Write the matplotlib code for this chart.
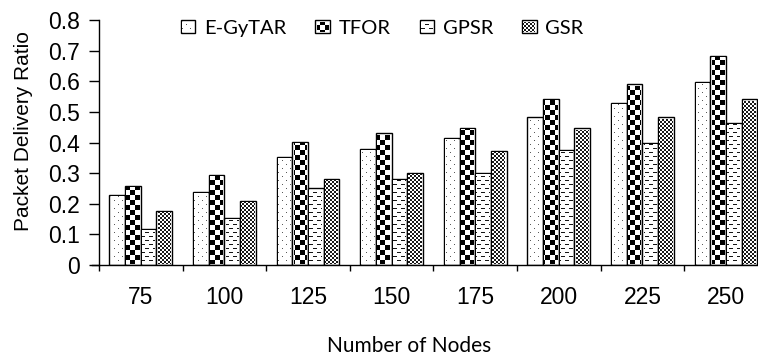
import matplotlib.pyplot as plt
import numpy as np
from matplotlib.patches import Rectangle

# data
nodes = ['75', '100', '125', '150', '175', '200', '225', '250']
e_gytar = [0.23, 0.238, 0.352, 0.378, 0.415, 0.482, 0.528, 0.598]
tfor = [0.257, 0.293, 0.402, 0.43, 0.447, 0.542, 0.59, 0.683]
gpsr = [0.118, 0.154, 0.25, 0.282, 0.30, 0.376, 0.40, 0.463]
gsr = [0.177, 0.21, 0.282, 0.30, 0.373, 0.446, 0.482, 0.541]

labels = ['E-GyTAR', 'TFOR', 'GPSR', 'GSR']
values = [e_gytar, tfor, gpsr, gsr]
fills = ['dots', 'checker', 'dash', 'fine']


def texture(kind, xx, yy):
    # pixel fill patterns, on global pixel coords so they line up
    if kind == 'dots':
        ink = ((xx % 8 == 2) & (yy % 8 == 2)) | ((xx % 8 == 6) & (yy % 8 == 6))
        val = 90
    elif kind == 'checker':
        ink = ((xx // 5 + yy // 5) % 2) == 0
        val = 0
    elif kind == 'dash':
        ink = ((yy % 8 == 2) & (xx % 8 >= 1) & (xx % 8 <= 4)) | \
              ((yy % 8 == 6) & ((xx % 8 >= 5) | (xx % 8 == 0)))
        val = 20
    else:
        ink = ((xx // 2 + yy // 2) % 2) == 0
        val = 25
    img = np.full(xx.shape + (4,), 255, dtype=np.uint8)
    img[ink, 0:3] = val
    return img


def paint(fig, patch, kind):
    bb = patch.get_window_extent()
    x0 = int(np.ceil(bb.x0 + 0.7))
    x1 = int(np.floor(bb.x1 - 0.7))
    y0 = int(np.ceil(bb.y0 + 0.7))
    y1 = int(np.floor(bb.y1 - 0.7))
    if x1 <= x0 or y1 <= y0:
        return
    xs = np.arange(x0, x1)
    ys = np.arange(y1 - 1, y0 - 1, -1)
    xx, yy = np.meshgrid(xs, ys)
    fig.figimage(texture(kind, xx, yy), xo=x0, yo=y0, origin='upper', zorder=5)


fig = plt.figure(figsize=(7.58, 3.55), dpi=100)
ax = fig.add_axes([99 / 758, 90 / 355, 8 * 83.6 / 758, 245 / 355])

x = np.arange(len(nodes))
w = 0.1875
bars = []
for i, v in enumerate(values):
    b = ax.bar(x + (i - 1.5) * w, v, w, color='white', edgecolor='black',
               linewidth=1.0, label=labels[i])
    bars.append(b)

ax.set_xlim(-0.5, len(nodes) - 0.5)
ax.set_ylim(0, 0.8)
ax.set_yticks(np.arange(0, 0.81, 0.1))
ax.set_yticklabels(['0'] + ['%.1f' % t for t in np.arange(0.1, 0.81, 0.1)],
                   family='Liberation Sans', fontsize=16.5)
ax.set_xticks(x)
ax.set_xticklabels(nodes, family='Liberation Sans', fontsize=16.5)
ax.set_xticks(np.arange(-0.5, len(nodes)), minor=True)
ax.tick_params(axis='x', which='major', length=0, pad=15)
ax.tick_params(axis='x', which='minor', length=4.5, width=1, direction='out')
ax.tick_params(axis='y', length=7.5, width=1, direction='out', pad=6)

for s in ['top', 'right']:
    ax.spines[s].set_visible(False)
ax.spines['left'].set_linewidth(1)
ax.spines['bottom'].set_linewidth(1)
ax.spines['bottom'].set_bounds(-0.58, len(nodes) - 0.5)

ax.set_ylabel('Packet Delivery Ratio', family='Liberation Sans', fontsize=15)
ax.yaxis.set_label_coords(-0.098, 0.547)
ax.set_xlabel('Number of Nodes', family='Lato', fontsize=15)
ax.xaxis.set_label_coords(0.4635, -0.29)

handles = [Rectangle((0, 0), 1, 1, facecolor='white', edgecolor='black', linewidth=1.0)
           for _ in labels]
leg = ax.legend(handles, labels, ncol=4, loc='upper left', bbox_to_anchor=(0.1226, 1.0),
                frameon=False, prop={'family': 'Lato', 'size': 14.5},
                handlelength=0.72, handleheight=0.62, handletextpad=0.42,
                columnspacing=1.45, borderpad=0, borderaxespad=0)

fig.canvas.draw()
for b, kind in zip(bars, fills):
    for p in b.patches:
        paint(fig, p, kind)
for h, kind in zip(leg.legend_handles, fills):
    paint(fig, h, kind)

fig.savefig('out.png', dpi=100)
